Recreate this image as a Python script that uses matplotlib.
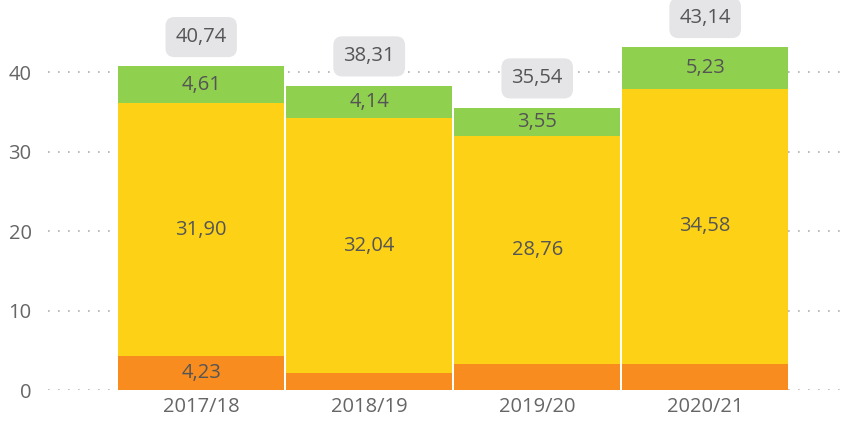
import matplotlib.pyplot as plt
import numpy as np

# data
years = ["2017/18", "2018/19", "2019/20", "2020/21"]
orange_vals = [4.23, 2.13, 3.23, 3.33]
yellow_vals = [31.90, 32.04, 28.76, 34.58]
green_vals = [4.61, 4.14, 3.55, 5.23]
totals = [40.74, 38.31, 35.54, 43.14]
y_ticks = [0, 10, 20, 30, 40]

ORANGE = "#F88C1E"
YELLOW = "#FDD216"
GREEN = "#8FD14F"
TEXT = "#555555"

plt.rcParams["font.family"] = ["Open Sans", "DejaVu Sans"]

fig = plt.figure(figsize=(8.48, 4.23), dpi=100)
ax = fig.add_axes([0.057, 0.078, 0.943, 0.883])

x = np.arange(len(years))
w = 0.985
bot = np.array(orange_vals)
mid = bot + np.array(yellow_vals)

ax.bar(x, orange_vals, width=w, color=ORANGE, zorder=2)
ax.bar(x, yellow_vals, width=w, bottom=bot, color=YELLOW, zorder=2)
ax.bar(x, green_vals, width=w, bottom=mid, color=GREEN, zorder=2)

def fmt(v):
    return f"{v:.2f}".replace(".", ",")

for i in range(len(years)):
    # segment labels (small orange segments are not labelled)
    if orange_vals[i] > 4:
        ax.text(x[i], orange_vals[i] / 2, fmt(orange_vals[i]), ha="center", va="center",
                fontsize=14.5, color=TEXT, zorder=3)
    ax.text(x[i], bot[i] + yellow_vals[i] / 2, fmt(yellow_vals[i]), ha="center", va="center",
            fontsize=14.5, color=TEXT, zorder=3)
    ax.text(x[i], mid[i] + green_vals[i] / 2, fmt(green_vals[i]), ha="center", va="center",
            fontsize=14.5, color=TEXT, zorder=3)
    # total label in grey rounded box
    ax.annotate(fmt(totals[i]), (x[i], totals[i]), xytext=(0, 21), textcoords="offset points",
                ha="center", va="center", fontsize=14.5, color=TEXT, zorder=4,
                bbox=dict(boxstyle="round,pad=0.5,rounding_size=0.45", fc="#E5E5E8", ec="none"))

ax.set_xlim(-0.91, 3.85)
ax.set_ylim(0, 47)
ax.set_yticks(y_ticks)
ax.set_xticks(x)
ax.set_xticklabels(years)
ax.tick_params(axis="both", length=0, labelsize=14.5, colors="#666666")
ax.tick_params(axis="y", pad=12)
ax.tick_params(axis="x", pad=5)
ax.yaxis.grid(True, linestyle=(0, (1, 5)), color="#B0B0B0", linewidth=1.2, zorder=0)
ax.set_axisbelow(True)
for s in ax.spines.values():
    s.set_visible(False)

fig.savefig("out.png", dpi=100)
